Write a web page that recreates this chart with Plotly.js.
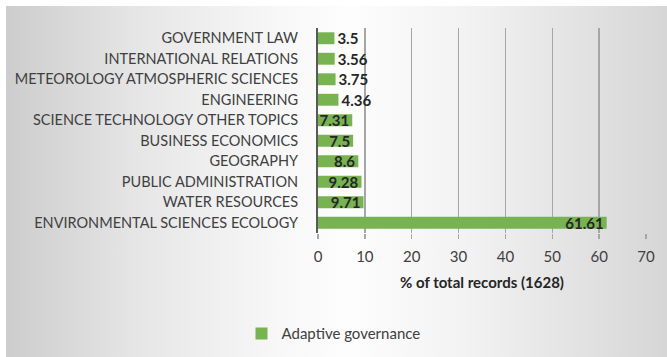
<!DOCTYPE html>
<html>
<head>
<meta charset="utf-8">
<script src="https://cdn.plot.ly/plotly-3.0.1.min.js"></script>
<style>
html,body{margin:0;padding:0;background:#ffffff;}
#bg{position:absolute;left:6px;top:6px;width:661px;height:351px;
background:linear-gradient(to right,#cdcdcd 0%,#e6e6e6 20%,#f8f8f8 42%,#fdfdfd 52%,#f2f2f2 70%,#d6d6d6 100%);}
#chart{position:absolute;left:0;top:0;width:667px;height:357px;}
</style>
</head>
<body>
<div id="bg"></div>
<div id="chart"></div>
<script>
var categories = [
  "ENVIRONMENTAL SCIENCES ECOLOGY",
  "WATER RESOURCES",
  "PUBLIC ADMINISTRATION",
  "GEOGRAPHY",
  "BUSINESS ECONOMICS",
  "SCIENCE TECHNOLOGY OTHER TOPICS",
  "ENGINEERING",
  "METEOROLOGY ATMOSPHERIC SCIENCES",
  "INTERNATIONAL RELATIONS",
  "GOVERNMENT LAW"
];
var values = [61.61, 9.71, 9.28, 8.6, 7.5, 7.31, 4.36, 3.75, 3.56, 3.5];
var seriesName = "Adaptive governance";
var xTickValues = [0, 10, 20, 30, 40, 50, 60, 70];
var xTitle = "% of total records (1628)";

var FONT = "Lato, 'Open Sans', sans-serif";

var trace = {
  type: "bar",
  orientation: "h",
  name: seriesName,
  y: categories,
  x: values,
  text: values.map(String),
  textposition: values.map(function(v){ return v < 5 ? "outside" : "inside"; }),
  insidetextanchor: "end",
  constraintext: "none",
  textangle: 0,
  cliponaxis: false,
  textfont: {family: FONT, size: 15, color: "#262626", weight: "bold"},
  insidetextfont: {family: FONT, size: 15, color: "#262626", weight: "bold"},
  outsidetextfont: {family: FONT, size: 15, color: "#262626", weight: "bold"},
  marker: {color: "#77b350"},
  hoverinfo: "x+y"
};

var layout = {
  width: 667,
  height: 357,
  paper_bgcolor: "rgba(0,0,0,0)",
  plot_bgcolor: "rgba(0,0,0,0)",
  margin: {l: 318, r: 21, t: 28, b: 124},
  bargap: 0.42,
  showlegend: true,
  legend: {
    orientation: "h",
    x: 0.5, xanchor: "center", xref: "container",
    y: 0.065, yanchor: "middle", yref: "container",
    font: {family: FONT, size: 15, color: "#404040"},
    itemwidth: 30
  },
  xaxis: {
    range: [0, 70],
    tickvals: xTickValues,
    ticktext: xTickValues.map(String),
    showgrid: true,
    gridcolor: "#a6a6a6",
    gridwidth: 1.5,
    zeroline: false,
    ticks: "outside",
    ticklen: 5,
    tickcolor: "#a6a6a6",
    tickwidth: 1.5,
    ticklabelstandoff: 5,
    tickfont: {family: FONT, size: 15, color: "#404040"},
    title: {text: "<b>" + xTitle + "</b>", font: {family: FONT, size: 15, color: "#262626"}, standoff: 13},
    fixedrange: true
  },
  yaxis: {
    type: "category",
    showline: true,
    linecolor: "#595959",
    linewidth: 2,
    ticks: "",
    ticklabelstandoff: 15,
    tickfont: {family: FONT, size: 14.5, color: "#404040"},
    automargin: false,
    fixedrange: true
  }
};

Plotly.newPlot("chart", [trace], layout, {displayModeBar: false, staticPlot: true});
</script>
</body>
</html>
